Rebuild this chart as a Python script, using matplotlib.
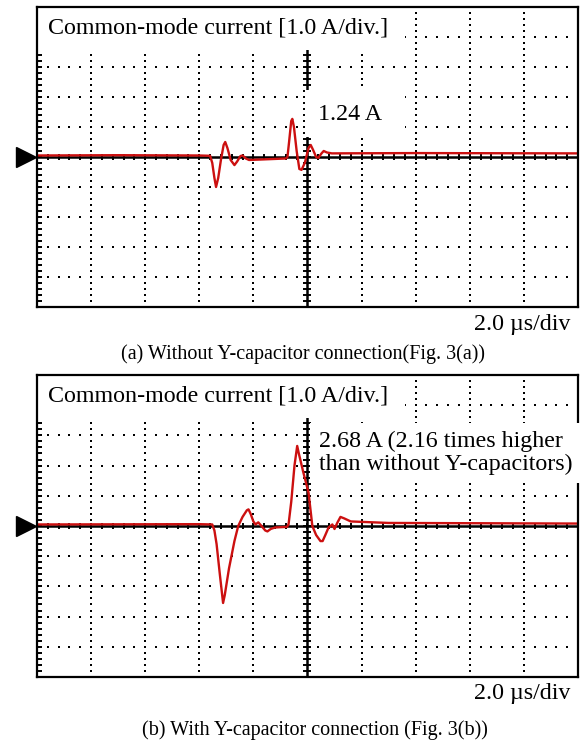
import numpy as np
import matplotlib
matplotlib.use('Agg')
import matplotlib.pyplot as plt
from matplotlib.patches import Rectangle

plt.rcParams['font.family'] = ['Liberation Serif', 'DejaVu Serif']

# waveforms, time in divisions (2.0 us/div), current in divisions (1.0 A/div)
t_a = [0, 1.5, 3.0, 3.20, 3.24, 3.28, 3.31, 3.35, 3.40, 3.45, 3.48, 3.52, 3.58, 3.65,
       3.70, 3.76, 3.80, 3.86, 3.92, 4.20, 4.60, 4.63, 4.66, 4.70, 4.72, 4.75, 4.80,
       4.85, 4.89, 4.95, 5.02, 5.06, 5.10, 5.16, 5.20, 5.26, 5.30, 5.36, 5.45, 7.0, 10]
i_a = [0.05, 0.06, 0.05, 0.04, -0.2, -0.7, -1.0, -0.7, -0.1, 0.4, 0.5, 0.3, -0.1, -0.27,
       -0.15, 0.03, 0.05, -0.05, -0.1, -0.08, -0.05, 0.0, 0.5, 1.2, 1.27, 1.0, 0.2,
       -0.4, -0.43, -0.2, 0.3, 0.4, 0.25, 0.0, -0.03, 0.12, 0.2, 0.15, 0.12, 0.13, 0.12]

t_b = [0, 3.0, 3.24, 3.28, 3.32, 3.38, 3.44, 3.47, 3.55, 3.65, 3.72, 3.80, 3.88, 3.91,
       3.95, 4.00, 4.04, 4.09, 4.15, 4.22, 4.26, 4.32, 4.40, 4.62, 4.65, 4.70, 4.76,
       4.81, 4.84, 4.92, 5.02, 5.09, 5.16, 5.24, 5.28, 5.33, 5.39, 5.46, 5.50, 5.55,
       5.61, 5.68, 5.80, 6.5, 10]
i_b = [0.05, 0.06, 0.05, -0.15, -0.6, -1.6, -2.55, -2.3, -1.4, -0.5, 0.0, 0.3, 0.52, 0.55,
       0.4, 0.15, 0.05, 0.12, 0.0, -0.15, -0.18, -0.1, -0.05, -0.03, 0.05, 0.8, 2.0,
       2.65, 2.4, 1.8, 1.1, 0.0, -0.3, -0.5, -0.5, -0.3, -0.05, 0.05, -0.1, 0.1,
       0.3, 0.25, 0.15, 0.1, 0.08]

label = 'Common-mode current [1.0 A/div.]'
scale = '2.0 \u00b5s/div'
peak_a = '1.24 A'
peak_b = '2.68 A (2.16 times higher\nthan without Y-capacitors)'
cap_a = '(a) Without Y-capacitor connection(Fig. 3(a))'
cap_b = '(b) With Y-capacitor connection (Fig. 3(b))'

fig = plt.figure(figsize=(5.87, 7.44), dpi=100)
ax1 = fig.add_axes([0.063, 0.5874, 0.9216, 0.4032])
ax2 = fig.add_axes([0.063, 0.0901, 0.9216, 0.4059])


def scope(ax, t, i):
    ax.set_xlim(0, 10)
    ax.set_ylim(-5, 5)
    ax.set_xticks([])
    ax.set_yticks([])
    for s in ax.spines.values():
        s.set_linewidth(1.6)
        s.set_zorder(7)
    # dotted graticule
    ys = np.arange(-5, 5.01, 0.2)
    xs = np.arange(0, 10.01, 0.2)
    for gx in range(1, 11):
        if gx == 5:
            continue
        ax.plot([gx] * len(ys), ys, 's', color='k', ms=1.8, mew=0, zorder=1)
    for gy in [-5, -4, -3, -2, -1, 1, 2, 3, 4, 5]:
        ax.plot(xs, [gy] * len(xs), 's', color='k', ms=1.8, mew=0, zorder=1)
    # centre axes with ticks
    ax.axhline(0, color='k', lw=1.8, zorder=2)
    ax.axvline(5, color='k', lw=1.8, zorder=2)
    ax.plot(xs, [0] * len(xs), '|', color='k', ms=4, mew=1.4, zorder=2)
    ax.plot([5] * len(ys), ys, '_', color='k', ms=6, mew=1.4, zorder=2)
    ax.plot([0] * len(ys), ys, '_', color='k', ms=7, mew=1.4, zorder=2)
    # ground marker
    ax.plot([-0.2], [0], '>', color='k', ms=14, clip_on=False, zorder=8)
    # trace
    ax.plot(t, i, color='#cc1010', lw=1.7, zorder=3)
    # channel label
    ax.add_patch(Rectangle((0, 3.57), 6.8, 1.43, facecolor='white', edgecolor='none', zorder=5))
    ax.text(0.2, 4.3, label, fontsize=17.3, va='center', ha='left', zorder=6)


scope(ax1, t_a, i_a)
scope(ax2, t_b, i_b)

ax1.add_patch(Rectangle((4.96, 0.67), 1.84, 1.56, facecolor='white', edgecolor='none', zorder=5))
ax1.text(5.19, 1.42, peak_a, fontsize=17.3, va='center', ha='left', zorder=6)

ax2.add_patch(Rectangle((5.04, 1.42), 5.1, 2.0, facecolor='white', edgecolor='none',
                        zorder=8, clip_on=False))
ax2.text(5.22, 2.42, peak_b, fontsize=17.3, va='center', ha='left', linespacing=1.1, zorder=9)

fig.text(570 / 587, 1 - 325 / 744, scale, fontsize=17.3, ha='right', va='center')
fig.text(570 / 587, 1 - 693 / 744, scale, fontsize=17.3, ha='right', va='center')
fig.text(303 / 587, 1 - 354 / 744, cap_a, fontsize=14.5, ha='center', va='center')
fig.text(315 / 587, 1 - 730 / 744, cap_b, fontsize=14.5, ha='center', va='center')

fig.savefig('out.png', dpi=100)
